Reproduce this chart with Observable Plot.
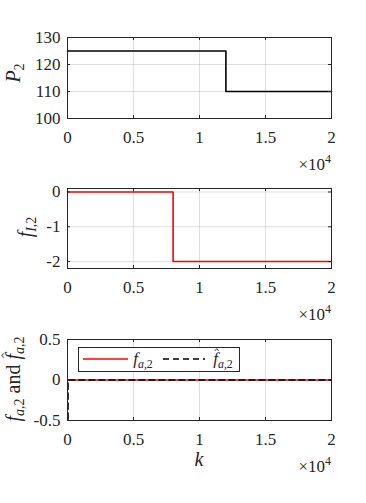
<!DOCTYPE html>
<html><head><meta charset="utf-8">
<script src="https://cdn.jsdelivr.net/npm/d3@7"></script>
<script src="https://cdn.jsdelivr.net/npm/@observablehq/plot@0.6"></script>
<style>
body{margin:0;background:#fff;}
#c{position:relative;width:366px;height:503px;overflow:hidden;}
#c svg{position:absolute;left:0;overflow:visible;}
</style></head><body><div id="c"></div>
<script>
// ---- data ----
const kTicks = [0, 5000, 10000, 15000, 20000];
const kTickLabels = ["0", "0.5", "1", "1.5", "2"];
const kMultiplier = "×10";
const kExponent = "4";

const p2K = [0, 12000, 20000];
const p2Val = [125, 110, 110];
const p2Ticks = [100, 110, 120, 130];

const fI2K = [0, 8000, 20000];
const fI2Val = [0, -2, -2];
const fI2Ticks = [-2, -1, 0];

const faK = [0, 20000];
const faVal = [0, 0];
const faHatK = [0, 40, 20000];
const faHatVal = [-0.6, 0, 0];
const faTicks = [-0.5, 0, 0.5];

// ---- layout ----
const W = 366, ML = 67, MR = 35;
const PW = W - ML - MR;
const FONT = "Liberation Serif";
const AX = "#262626";

function zip(xs, ys) { return xs.map((x, i) => ({k: x, v: ys[i]})); }

function fixFont(s) {
  s.selectAll("text").attr("font-family", FONT).style("font-family", "'Liberation Serif', serif");
}

function panel({top, mt, ph, mb, yDomain, yTicks, marks}) {
  const svg = Plot.plot({
    width: W, height: mt + ph + mb,
    marginLeft: ML, marginRight: MR, marginTop: mt, marginBottom: mb,
    style: "font-family:'Liberation Serif',serif;font-size:17px;color:#262626;background:transparent;",
    x: {domain: [0, 20000]},
    y: {domain: yDomain},
    marks: [
      Plot.gridX(kTicks, {stroke: AX, strokeOpacity: 0.15}),
      Plot.gridY(yTicks, {stroke: AX, strokeOpacity: 0.15}),
      ...marks,
      Plot.tickY(yTicks, {y: d => d, insetRight: PW - 3, stroke: AX}),
      Plot.tickY(yTicks, {y: d => d, insetLeft: PW - 3, stroke: AX}),
      Plot.tickX(kTicks, {x: d => d, insetTop: ph - 3, stroke: AX}),
      Plot.tickX(kTicks, {x: d => d, insetBottom: ph - 3, stroke: AX}),
      Plot.frame({stroke: AX, strokeWidth: 1}),
      Plot.axisX(kTicks, {tickSize: 0, tickPadding: 12, tickFormat: d => kTickLabels[kTicks.indexOf(d)], label: null}),
      Plot.axisY(yTicks, {tickSize: 0, tickPadding: 7, tickFormat: d => String(d), label: null})
    ]
  });
  svg.style.top = top + "px";
  document.getElementById("c").appendChild(svg);
  const s = d3.select(svg);
  const t = s.append("text").attr("x", ML + PW).attr("y", mt + ph + 52)
    .attr("text-anchor", "end").attr("font-size", 17).attr("fill", AX);
  t.append("tspan").text(kMultiplier);
  t.append("tspan").attr("dy", -7).attr("font-size", 12).text(kExponent);
  return s;
}

function mathLabel(s, x, y, rotate, parts, size) {
  const tf = `translate(${x},${y})` + (rotate ? " rotate(-90)" : "");
  const t = s.append("text").attr("transform", tf)
    .attr("text-anchor", "middle").attr("font-size", size).attr("fill", AX)
    .attr("font-family", FONT).style("font-family", "'Liberation Serif', serif");
  let shift = 0, idx = 0;
  const hats = [];
  for (const p of parts) {
    const sp = t.append("tspan").text(p.t);
    if (p.i) sp.attr("font-style", "italic");
    const want = p.sub ? size * 0.22 : 0;
    if (want !== shift) { sp.attr("dy", want - shift); shift = want; }
    if (p.sub) sp.attr("font-size", size * 0.7);
    if (p.hat) hats.push(idx);
    idx += p.t.length;
  }
  for (const h of hats) {
    const e = t.node().getExtentOfChar(h);
    const x0 = e.x + e.width * 0.35, x2 = e.x + e.width * 1.15, xm = (x0 + x2) / 2;
    const yb = e.y + e.height * 0.1, ya = e.y - e.height * 0.02;
    s.append("path").attr("transform", tf)
      .attr("d", `M${x0},${yb}L${xm},${ya}L${x2},${yb}`)
      .attr("fill", "none").attr("stroke", AX).attr("stroke-width", 0.9);
  }
  return t;
}

// Panel 1
const s1 = panel({top: 0, mt: 37, ph: 81, mb: 50, yDomain: [100, 130], yTicks: p2Ticks, marks: [
  Plot.line(zip(p2K, p2Val), {x: "k", y: "v", curve: "step-after", stroke: "#000", strokeWidth: 1.6})
]});
fixFont(s1);
mathLabel(s1, 20, 73, true, [{t: "P", i: true}, {t: "2", sub: true}], 20);

// Panel 2
const s2 = panel({top: 168, mt: 20, ph: 80, mb: 50, yDomain: [-2.2, 0.1], yTicks: fI2Ticks, marks: [
  Plot.line(zip(fI2K, fI2Val), {x: "k", y: "v", curve: "step-after", stroke: "#ff0000", strokeWidth: 1.6})
]});
fixFont(s2);
mathLabel(s2, 32, 59, true, [{t: "f", i: true}, {t: "I", sub: true, i: true}, {t: ",2", sub: true}], 20);

// Panel 3
const s3 = panel({top: 318, mt: 21, ph: 81, mb: 60, yDomain: [-0.5, 0.5], yTicks: faTicks, marks: [
  Plot.line(zip(faK, faVal), {x: "k", y: "v", stroke: "#ff0000", strokeWidth: 1.6, clip: true}),
  Plot.line(zip(faHatK, faHatVal), {x: "k", y: "v", curve: "step-after", stroke: "#000", strokeWidth: 1.6, strokeDasharray: "6,4", clip: true})
]});
fixFont(s3);
mathLabel(s3, 20, 61, true, [{t: "f", i: true}, {t: "a", sub: true, i: true}, {t: ",2", sub: true}, {t: " and "}, {t: "f", i: true, hat: true}, {t: "a", sub: true, i: true}, {t: ",2", sub: true}], 20);
mathLabel(s3, ML + PW / 2, 21 + 81 + 46, false, [{t: "k", i: true}], 20);

// legend
const lg = s3.append("g").attr("fill", AX);
lg.append("rect").attr("x", 78.5).attr("y", 29.5).attr("width", 161).attr("height", 24)
  .attr("fill", "#fff").attr("stroke", AX);
lg.append("line").attr("x1", 83).attr("x2", 128).attr("y1", 41).attr("y2", 41).attr("stroke", "#ff0000").attr("stroke-width", 1.6);
lg.append("line").attr("x1", 163).attr("x2", 205).attr("y1", 41).attr("y2", 41).attr("stroke", "#000").attr("stroke-width", 1.6).attr("stroke-dasharray", "6,4");
mathLabel(lg, 143, 46, false, [{t: "f", i: true}, {t: "a", sub: true, i: true}, {t: ",2", sub: true}], 17);
mathLabel(lg, 223, 46, false, [{t: "f", i: true, hat: true}, {t: "a", sub: true, i: true}, {t: ",2", sub: true}], 17);
</script></body></html>
